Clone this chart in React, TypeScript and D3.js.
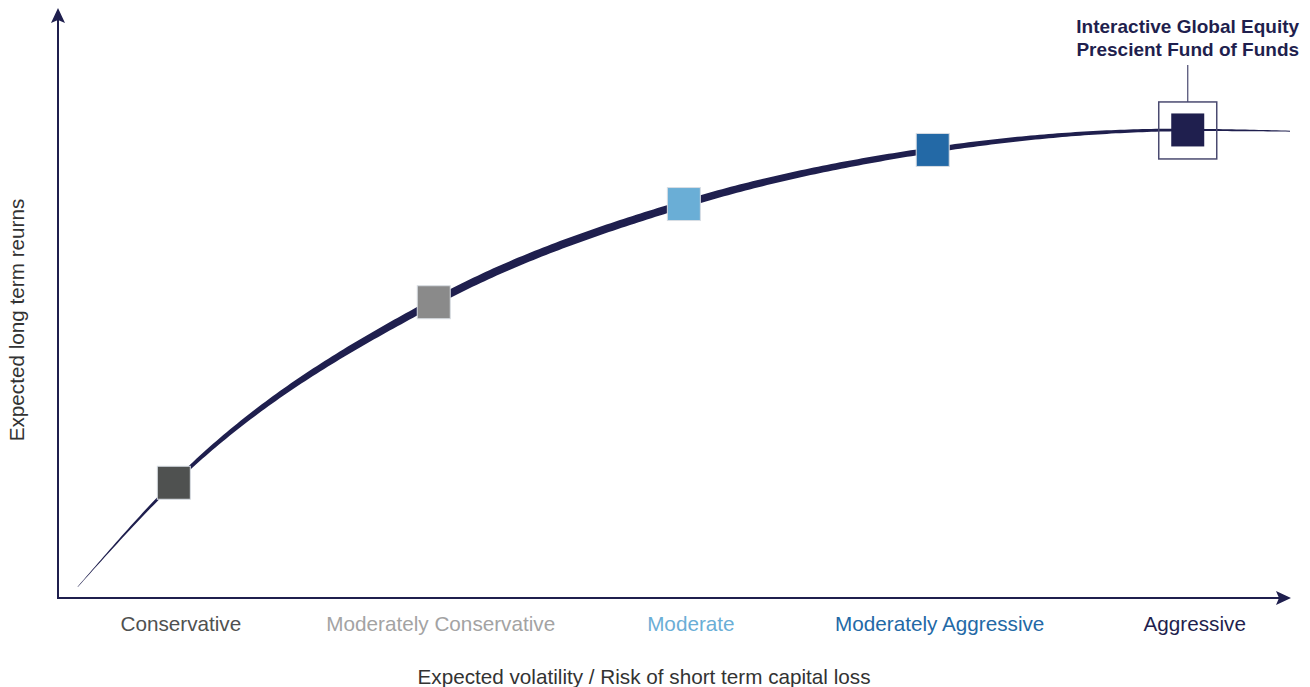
import React, { useEffect, useRef } from 'react';
import * as d3 from 'd3';

// risk / return profiles (0-100 on both axes)
const profiles = ['Conservative', 'Moderately Conservative', 'Moderate', 'Moderately Aggressive', 'Aggressive'];
const profileRisk = [9.4, 30.5, 50.8, 71.0, 91.7];
const profileReturn = [19.6, 50.3, 67.0, 76.2, 79.6];
const profileColors = ['#4f5150', '#8a8a8a', '#6aaed6', '#2369a6', '#1f1f4e'];
const labelColors = ['#4f5150', '#a3a3a3', '#6aaed6', '#2369a6', '#1f1f4e'];

// efficient frontier curve
const curveRisk = [1.6, 9.4, 30.5, 50.8, 71.0, 91.7, 100];
const curveReturn = [1.9, 19.6, 50.3, 67.0, 76.2, 79.6, 79.4];

const fundName = ['Interactive Global Equity', 'Prescient Fund of Funds'];
const fundIndex = 4;

const W = 1310;
const H = 687;
const NAVY = '#1f1f4e';
const FONT = 'Liberation Sans, Arial, Helvetica, sans-serif';

const App: React.FC = () => {
  const svgRef = useRef<SVGSVGElement>(null);

  useEffect(() => {
    if (!svgRef.current) return;
    const svg = d3.select(svgRef.current);
    svg.selectAll('*').remove();

    const x = d3.scaleLinear().domain([0, 100]).range([58, 1290]);
    const y = d3.scaleLinear().domain([0, 100]).range([598, 10]);

    // axes
    svg.append('line')
      .attr('x1', x(0)).attr('y1', y(0)).attr('x2', x(0)).attr('y2', 18)
      .attr('stroke', NAVY).attr('stroke-width', 2);
    svg.append('path')
      .attr('d', `M${x(0)},8 L${x(0) - 7},23 L${x(0)},20 L${x(0) + 7},23 Z`)
      .attr('fill', NAVY);
    svg.append('line')
      .attr('x1', x(0) - 1).attr('y1', y(0)).attr('x2', 1282).attr('y2', y(0))
      .attr('stroke', NAVY).attr('stroke-width', 2);
    svg.append('path')
      .attr('d', `M1291,${y(0)} L1276,${y(0) - 7} L1279,${y(0)} L1276,${y(0) + 7} Z`)
      .attr('fill', NAVY);

    // tapered curve: sample a hidden path and build a variable-width ribbon
    const pts: [number, number][] = curveRisk.map((r, i) => [x(r), y(curveReturn[i])]);
    const line = d3.line().curve(d3.curveMonotoneX);
    const guide = svg.append('path').attr('d', line(pts) as string).attr('fill', 'none');
    const node = guide.node() as SVGPathElement;
    const total = node.getTotalLength();
    const n = 300;
    const widthAt = (t: number) => {
      // thin at both ends, thickest around the middle
      if (t < 0.42) return 0.4 + 7.6 * Math.sin((t / 0.42) * Math.PI / 2);
      return 1 + 7 * Math.cos(((t - 0.42) / 0.58) * Math.PI / 2);
    };
    const left: [number, number][] = [];
    const right: [number, number][] = [];
    for (let i = 0; i <= n; i++) {
      const t = i / n;
      const p = node.getPointAtLength(t * total);
      const p0 = node.getPointAtLength(Math.max(0, t * total - 1));
      const p1 = node.getPointAtLength(Math.min(total, t * total + 1));
      const dx = p1.x - p0.x, dy = p1.y - p0.y;
      const len = Math.hypot(dx, dy) || 1;
      const nx = -dy / len, ny = dx / len;
      const w = widthAt(t) / 2;
      left.push([p.x + nx * w, p.y + ny * w]);
      right.push([p.x - nx * w, p.y - ny * w]);
    }
    guide.remove();
    svg.append('path')
      .attr('d', 'M' + left.concat(right.reverse()).map(p => p.join(',')).join('L') + 'Z')
      .attr('fill', NAVY);

    // highlight box + leader for the fund
    const fx = x(profileRisk[fundIndex]);
    const fy = y(profileReturn[fundIndex]);
    svg.append('rect')
      .attr('x', fx - 29).attr('y', fy - 28).attr('width', 58).attr('height', 57)
      .attr('fill', 'none').attr('stroke', '#4a4a70').attr('stroke-width', 1.5);
    svg.append('line')
      .attr('x1', fx).attr('y1', 65).attr('x2', fx).attr('y2', fy - 28)
      .attr('stroke', '#4a4a70').attr('stroke-width', 1.2);

    // markers
    svg.selectAll('.marker')
      .data(profiles)
      .enter().append('rect')
      .attr('class', 'marker')
      .attr('x', (_, i) => x(profileRisk[i]) - 16.5)
      .attr('y', (_, i) => y(profileReturn[i]) - 16.5)
      .attr('width', 33).attr('height', 33)
      .attr('fill', (_, i) => profileColors[i])
      .attr('stroke', (_, i) => i === fundIndex ? 'none' : '#d8dde3')
      .attr('stroke-width', 1);

    // category labels
    svg.selectAll('.cat')
      .data(profiles)
      .enter().append('text')
      .attr('class', 'cat')
      .attr('x', (_, i) => x(profileRisk[i]) + 7)
      .attr('y', 631)
      .attr('text-anchor', 'middle')
      .style('font-family', FONT)
      .style('font-size', '20.7px')
      .attr('fill', (_, i) => labelColors[i])
      .text(d => d);

    // axis titles
    svg.append('text')
      .attr('x', 644).attr('y', 684)
      .attr('text-anchor', 'middle')
      .style('font-family', FONT).style('font-size', '20.7px')
      .attr('fill', '#333')
      .text('Expected volatility / Risk of short term capital loss');
    svg.append('text')
      .attr('transform', `translate(24,320) rotate(-90)`)
      .attr('text-anchor', 'middle')
      .style('font-family', FONT).style('font-size', '20.7px')
      .attr('fill', '#333')
      .text('Expected long term reurns');

    // fund annotation
    svg.selectAll('.fund')
      .data(fundName)
      .enter().append('text')
      .attr('class', 'fund')
      .attr('x', fx)
      .attr('y', (_, i) => 33 + i * 23)
      .attr('text-anchor', 'middle')
      .style('font-family', FONT).style('font-size', '19px').style('font-weight', 'bold')
      .attr('fill', NAVY)
      .text(d => d);
  }, []);

  return (
    <svg ref={svgRef} width={W} height={H} viewBox={`0 0 ${W} ${H}`}
      style={{ position: 'absolute', left: 0, top: 0, background: '#fff' }} />
  );
};

export default App;
